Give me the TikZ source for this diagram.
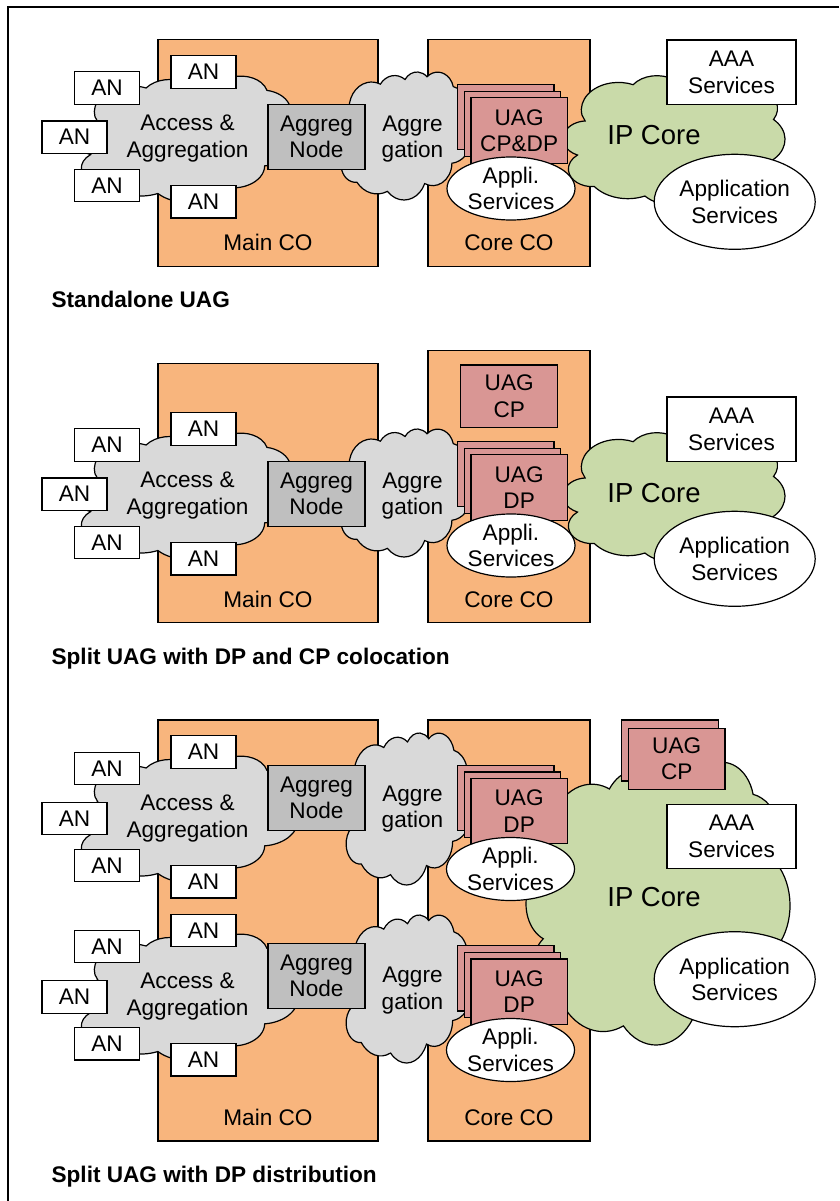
\documentclass[tikz,border=0pt]{standalone}
\usepackage{fontspec}
\setmainfont{Liberation Sans}
\usetikzlibrary{shapes.geometric}
\definecolor{coOrange}{HTML}{F8B57D}
\definecolor{cloudGray}{HTML}{D9D9D9}
\definecolor{nodeGray}{HTML}{BFBFBF}
\definecolor{uagPink}{HTML}{D99694}
\definecolor{coreGreen}{HTML}{C9DAA9}
% PowerPoint-like cloud: #1 fill, #2 left, #3 top, #4 width, #5 height (visual box)
\newcommand\mycloud[5]{%
\begin{scope}[shift={({#2-1.05*(#4)/93.49},{#3-0.05*(#5)/102.94})},xscale={(#4)/93.49},yscale={(#5)/102.94}]
\draw[fill=#1] (9.028,33.264)
 arc[start angle=-190.487,delta angle=123.781,x radius=15.632,y radius=21.273]
 arc[start angle=-144.102,delta angle=89.945,x radius=12.345,y radius=16.822]
 arc[start angle=-145.808,delta angle=99.723,x radius=10.104,y radius=13.762]
 arc[start angle=-130.986,delta angle=117.242,x radius=11.243,y radius=15.266]
 arc[start angle=-78.709,delta angle=109.027,x radius=12.345,y radius=16.836]
 arc[start angle=-46.267,delta angle=130.269,x radius=15.683,y radius=21.343]
 arc[start angle=0.625,delta angle=114.033,x radius=13.391,y radius=18.211]
 arc[start angle=22.452,delta angle=115.173,x radius=15.630,y radius=21.331]
 arc[start angle=66.243,delta angle=75.711,x radius=17.870,y radius=24.405]
 arc[start angle=-274.942,delta angle=146.736,x radius=10.093,y radius=13.699]
 arc[start angle=-246.829,delta angle=152.519,x radius=10.058,y radius=13.762]
 -- cycle;
\end{scope}}
\tikzset{
 lbl/.style={font=\fontsize{22.6}{26.5}\selectfont, align=center, inner sep=0pt},
 iplbl/.style={font=\fontsize{27.5}{30}\selectfont, inner sep=0pt},
 co/.style={draw, fill=coOrange, rectangle, inner sep=0pt},
 an/.style={lbl, draw, fill=white, minimum width=65pt, minimum height=32.3pt},
 aggnode/.style={lbl, draw, fill=nodeGray, minimum width=97pt, minimum height=65pt},
 uag/.style={lbl, draw, fill=uagPink, minimum width=96.3pt, minimum height=65.3pt},
 uagcp/.style={lbl, draw, fill=uagPink, minimum width=96.7pt, minimum height=61.5pt},
 svc/.style={lbl, draw, fill=white, minimum width=129pt, minimum height=64.3pt},
 appli/.style={lbl, draw, fill=white, ellipse, minimum width=128pt, minimum height=63pt},
 appsvc/.style={lbl, draw, fill=white, ellipse, minimum width=161pt, minimum height=95pt},
 titletext/.style={font=\fontsize{22.6}{26}\selectfont\bfseries, inner sep=0pt, anchor=base west},
}
\begin{document}
\begin{tikzpicture}[x=1pt,y=-1pt,line width=1.2pt]
\useasboundingbox (0,0) rectangle (839,1201);
\fill[white] (0,0) rectangle (839,1201);
\coordinate (fbl) at (8,1201);
\coordinate (ftl) at (8,7);
\coordinate (ftr) at (839,7);
\draw (fbl) -- (ftl) -- (ftr);

% ================= Section 1: Standalone UAG =================
\node[co, minimum width=220pt, minimum height=227.4pt] (mainA) at (268,153) {};
\node[co, minimum width=162pt, minimum height=227.4pt] (coreA) at (509,153) {};
\node[lbl, anchor=base] (mainAl) at (268,250.7) {Main CO};
\node[lbl, anchor=base] (coreAl) at (509,250.7) {Core CO};
\mycloud{cloudGray}{76}{76}{222}{126}
\node[lbl, anchor=base] (accA) at (187.5,157.3) {Access \&\\Aggregation};
\mycloud{cloudGray}{338}{72}{134}{128}
\node[lbl, anchor=base] (aggA) at (412.5,157.7) {Aggre\\gation};
\mycloud{coreGreen}{563}{72}{222}{133}
\node[iplbl, anchor=base] (ipA) at (654,145) {IP Core};
\node[an] (anA1) at (107,88) {AN};
\node[an] (anA2) at (74.5,137.2) {AN};
\node[an] (anA3) at (107,185.7) {AN};
\node[an] (anA4) at (203.5,72) {AN};
\node[an] (anA5) at (203.5,201.8) {AN};
\node[aggnode] (agnA) at (316.5,136.8) {Aggreg\\Node};
\node[uag] (dpA3) at (505.85,117.2) {};
\node[uag] (dpA2) at (512.5,123.85) {};
\node[uag] (dpA1) at (519.15,130.5) {UAG\\CP\&DP};
\node[appli] (apA) at (511,188.5) {Appli.\\Services};
\node[svc] (aaaA) at (731.5,72.2) {AAA\\Services};
\node[appsvc] (asA) at (734.7,201.8) {Application\\Services};
\node[titletext] (tA) at (51,307.3) {Standalone UAG};

% ================= Section 2: Split UAG, colocation =================
\node[co, minimum width=220pt, minimum height=259.4pt] (mainB) at (268,493) {};
\node[co, minimum width=162pt, minimum height=272pt] (coreB) at (509,486.7) {};
\node[lbl, anchor=base] (mainBl) at (268,607.7) {Main CO};
\node[lbl, anchor=base] (coreBl) at (509,607.7) {Core CO};
\mycloud{cloudGray}{76}{433}{222}{126}
\node[lbl, anchor=base] (accB) at (187.5,514.3) {Access \&\\Aggregation};
\mycloud{cloudGray}{338}{429}{134}{128}
\node[lbl, anchor=base] (aggB) at (412.5,514.7) {Aggre\\gation};
\mycloud{coreGreen}{563}{429}{222}{133}
\node[iplbl, anchor=base] (ipB) at (654,502) {IP Core};
\node[an] (anB1) at (107,445) {AN};
\node[an] (anB2) at (74.5,494.2) {AN};
\node[an] (anB3) at (107,542.7) {AN};
\node[an] (anB4) at (203.5,429) {AN};
\node[an] (anB5) at (203.5,558.8) {AN};
\node[aggnode] (agnB) at (316.5,493.8) {Aggreg\\Node};
\node[uagcp, minimum width=97pt, minimum height=62.3pt] (cpB) at (509.2,396.2) {UAG\\CP};
\node[uag] (dpB3) at (505.85,474.2) {};
\node[uag] (dpB2) at (512.5,480.85) {};
\node[uag] (dpB1) at (519.15,487.5) {UAG\\DP};
\node[appli] (apB) at (511,545.5) {Appli.\\Services};
\node[svc] (aaaB) at (731.5,429.2) {AAA\\Services};
\node[appsvc] (asB) at (734.7,558.8) {Application\\Services};
\node[titletext] (tB) at (51,664) {Split UAG with DP and CP colocation};

% ================= Section 3: Split UAG, DP distribution =================
\node[co, minimum width=220pt, minimum height=421pt] (mainC) at (268,930.5) {};
\node[co, minimum width=162pt, minimum height=421pt] (coreC) at (509,930.5) {};
\node[lbl, anchor=base] (mainCl) at (268,1125) {Main CO};
\node[lbl, anchor=base] (coreCl) at (509,1125) {Core CO};
% upper access group
\mycloud{cloudGray}{76}{756}{222}{126}
\node[lbl, anchor=base] (accC) at (187.5,837.3) {Access \&\\Aggregation};
% lower access group
\mycloud{cloudGray}{76}{934}{222}{126}
\node[lbl, anchor=base] (accD) at (187.5,1015) {Access \&\\Aggregation};
\mycloud{cloudGray}{343}{733}{129}{152}
\node[lbl, anchor=base] (aggC) at (412.5,827.7) {Aggre\\gation};
\mycloud{cloudGray}{343}{915}{129}{148}
\node[lbl, anchor=base] (aggD) at (412.5,1009.3) {Aggre\\gation};
\mycloud{coreGreen}{526}{762}{264}{283}
\node[iplbl, anchor=base] (ipC) at (654,906.7) {IP Core};
\node[an] (anC1) at (107,768.3) {AN};
\node[an] (anC2) at (74.5,818.5) {AN};
\node[an] (anC3) at (107,865.7) {AN};
\node[an] (anC4) at (203.5,752) {AN};
\node[an] (anC5) at (203.5,881.8) {AN};
\node[an] (anD1) at (107,946.3) {AN};
\node[an] (anD2) at (74.5,997) {AN};
\node[an] (anD3) at (107,1043.8) {AN};
\node[an] (anD4) at (203.5,930.5) {AN};
\node[an] (anD5) at (203.5,1059.8) {AN};
\node[aggnode] (agnC) at (316.5,797.9) {Aggreg\\Node};
\node[aggnode] (agnD) at (316.5,975.7) {Aggreg\\Node};
\node[uag] (dpC3) at (505.85,797.9) {};
\node[uag] (dpC2) at (512.5,804.55) {};
\node[uag] (dpC1) at (519.15,811.2) {UAG\\DP};
\node[uag] (dpD3) at (505.85,978.4) {};
\node[uag] (dpD2) at (512.5,985.05) {};
\node[uag] (dpD1) at (519.15,991.7) {UAG\\DP};
\node[appli] (apC) at (510.5,869) {Appli.\\Services};
\node[appli] (apD) at (510.5,1050) {Appli.\\Services};
\node[uagcp, minimum height=61pt] (cpC2) at (670,750.5) {};
\node[uagcp, minimum height=61pt] (cpC1) at (676.7,758.8) {UAG\\CP};
\node[svc] (aaaC) at (731.5,836.5) {AAA\\Services};
\node[appsvc] (asC) at (734.7,979.2) {Application\\Services};
\node[titletext] (tC) at (51,1182) {Split UAG with DP distribution};
\end{tikzpicture}
\end{document}
